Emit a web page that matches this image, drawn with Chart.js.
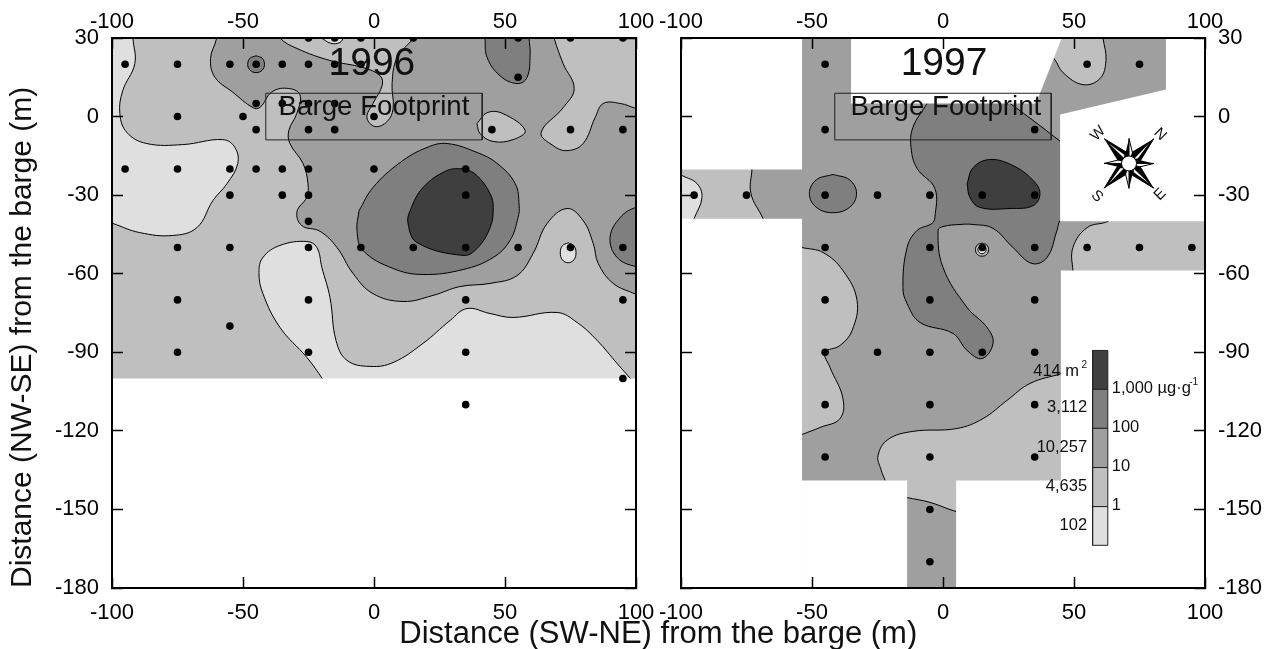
<!DOCTYPE html>
<html>
<head>
<meta charset="utf-8">
<title>Barge footprint 1996 / 1997</title>
<script src="https://cdn.jsdelivr.net/npm/chart.js@4"></script>
<style>
  body { margin: 0; background: #fff; }
  canvas { position: absolute; left: 0; top: 0; }
</style>
</head>
<body>
<canvas id="chart96" width="1270" height="649"></canvas>
<canvas id="chart97" width="1270" height="649"></canvas>
<script>
// axes
const xTicks = [-100, -50, 0, 50, 100];
const yTicks = [30, 0, -30, -60, -90, -120, -150, -180];

// sampling stations, [x, y] in metres
const stations96 = [
  [-25,30],[-15,30],[-5,30],[15,30],[55,30],[75,30],[95,30],
  [-95,20],[-75,20],[-55,20],[-45,20],[-35,20],[-25,20],[-15,20],[-5,20],[55,15],
  [-45,5],[-35,5],[-25,5],[-15,5],[-75,0],[-50,0],[0,0],
  [-45,-5],[-25,-5],[-15,-5],[45,-5],[75,-5],[95,-5],
  [-95,-20],[-75,-20],[-55,-20],[-45,-20],[-35,-20],[-25,-20],[0,-20],[35,-20],
  [-55,-30],[-35,-30],[-25,-30],[35,-30],[-25,-40],
  [-75,-50],[-55,-50],[-25,-50],[-5,-50],[15,-50],[35,-50],[55,-50],[75,-50],[95,-50],
  [-75,-70],[-25,-70],[35,-70],[95,-70],[-55,-80],
  [-75,-90],[-25,-90],[35,-90],[95,-100],[35,-110]
];
const stations97 = [
  [-45,20],[55,20],[75,20],[-45,-5],[35,-5],
  [-95,-30],[-75,-30],[-45,-30],[-25,-30],[-5,-30],[15,-30],[35,-30],
  [-45,-50],[-5,-50],[15,-50],[35,-50],[55,-50],[75,-50],[95,-50],
  [-45,-70],[-5,-70],[35,-70],
  [-45,-90],[-25,-90],[-5,-90],[15,-90],[35,-90],
  [-45,-110],[-5,-110],[35,-110],
  [-45,-130],[-5,-130],[35,-130],
  [-5,-150],[-5,-170]
];

// barge outline
const footprint = [[-41.3,8.9],[41.3,8.9],[41.3,-8.9],[-41.3,-8.9]];

// concentration classes, lowest to highest
const classColors = ['#dfdfdf', '#bfbfbf', '#9f9f9f', '#7f7f7f', '#3f3f3f'];
const classLabels = ['1', '10', '100', '1,000 µg·g'];
const classAreas = ['102', '4,635', '10,257', '3,112', '414 m'];
const classEdges = [-163.7, -148.9, -134, -119, -104.1, -89.3];

// 1996 contours
const base96 = [[-110,34],[110,34],[110,-110],[-110,-110]];
const c96Ten = [[-60,34],[-60.1,29.8],[-62.4,22.1],[-60.7,15],[-53.9,9.3],[-46.2,3.4],[-43.5,3.5],[-39.1,9.3],[-33.3,10.8],[-28.3,8.4],[-29.5,1.1],[-32.5,-5.3],[-32.1,-10.3],[-27.1,-17.9],[-25.2,-25.6],[-25.7,-30.8],[-29.4,-36.3],[-27.6,-41.6],[-20.6,-43.8],[-14.2,-49.9],[-8,-59.9],[-0.4,-67.6],[11.1,-70.6],[22.5,-68.3],[32.8,-64.9],[44.3,-63.7],[54.6,-60.7],[60.7,-52.3],[66.1,-40.8],[73.7,-35.1],[79.8,-39.7],[83.7,-48.5],[85.6,-56.1],[91.3,-63.7],[100,-67.9],[108,-72],[108,-108],[-108,-108],[-108,34]];
const c96OneLeft = [[-92,34],[-92,30],[-91.3,20.2],[-95.9,9.9],[-97,1.1],[-94.3,-6.1],[-86.7,-10.3],[-73,-10.7],[-57.7,-8.8],[-53.1,-11.8],[-52,-17.9],[-56.1,-25.6],[-61.5,-32.1],[-67.6,-42.4],[-76.8,-45.4],[-89.4,-44.3],[-99.7,-40.8],[-108,-38],[-108,34]];
const c96OneLow = [[-17,-105],[-19.5,-100.4],[-25.6,-92],[-35.9,-80.5],[-42.4,-67.6],[-43.9,-59.5],[-42.4,-53.8],[-35.9,-49.2],[-25.6,-47.7],[-21.8,-50],[-19.9,-57.6],[-16.8,-69.1],[-14.5,-85.5],[-10.3,-93.1],[-1.5,-95.4],[7.3,-93.9],[18.7,-86.6],[29,-77.9],[35.5,-73.3],[44.3,-75.2],[53.1,-76.7],[69.9,-74.8],[77.5,-78.6],[85.2,-85.5],[92.8,-94.3],[98.2,-100.4],[102,-105]];
const c96TenRight = [[68,34],[68.8,29.8],[72.2,20.2],[76.4,10.7],[72.2,3.4],[63.8,-6.1],[68.4,-11.1],[73.7,-13],[79.8,-10.3],[84.4,-0.4],[87.5,5],[94,5],[100,3.1],[108,1],[108,34]];
const c96TenIsland = [[39.3,-2.7],[43.2,1.5],[49.3,1.1],[57.7,-5.3],[53.1,-8.8],[45.5,-9.5],[40.5,-6.5]];
const c96TenTop = [[-37,34],[-35.9,30],[-29.4,26],[-16.8,21.4],[-4.2,18.7],[2.3,15.6],[3.1,11.8],[-0.4,5],[-2.7,-0.4],[0.4,-3.8],[5,-1.9],[7.3,3.1],[6.9,12.6],[8.8,22.5],[14.9,29.8],[17,34]];
const c96OneTiny = [[-20.5,30.3],[-16.5,28],[-13,28.3],[-12,30.3],[-16,33]];
const c96HundredTop = [[42.4,34],[42.4,29.8],[43.2,22.5],[48.1,15.6],[54.6,12.6],[58.4,14.9],[59.6,24],[59.2,29.8],[59.2,34]];
const c96Hundred = [[-5.7,-35.9],[-0.4,-27.1],[9.9,-17.6],[20.2,-11.8],[27.9,-10.3],[39.3,-13.7],[47,-17.9],[53.9,-25.6],[55.4,-34],[55,-38.5],[51.9,-47.3],[45.5,-53.8],[34,-58.4],[18.7,-60.3],[7.3,-58],[-4.2,-51.1],[-6.5,-43.5]];
const c96HundredRight = [[108,-34],[100,-34.7],[94,-38.5],[90.1,-46.2],[92.8,-53.8],[100,-57.3],[108,-58]];
const c96Thousand = [[34.8,-19.8],[27.9,-20.6],[18.7,-27.1],[13.8,-35.9],[13,-40.8],[16.4,-48.1],[34,-53],[39.3,-50.4],[44.3,-42.4],[45.5,-34.7],[44.3,-29.4],[39.3,-22.5]];
const c96OneSpot = [[74.1,-48.2],[76.3,-49.3],[77.1,-52],[76.3,-54.7],[74.1,-55.8],[71.9,-54.7],[71.1,-52],[71.9,-49.3]];
const c96HundredSpot = [[-45,23.2],[-42.7,22.3],[-41.8,20],[-42.7,17.7],[-45,16.8],[-47.3,17.7],[-48.2,20],[-47.3,22.3]];
const mask96 = [[-110,-100],[110,-100],[110,-190],[-110,-190]];

// 1997 contours
const base97 = [[-110,34],[110,34],[110,-190],[-110,-190]];
const c97Hundred = [[-3,10],[-6.1,5],[-11.5,-4.2],[-12.2,-11.8],[-9.9,-19.8],[-3.1,-27.5],[-3.1,-38.5],[-4.2,-40.8],[-9.9,-43.5],[-13.7,-50],[-15.3,-65.3],[-13.7,-71.4],[-8.8,-78.6],[3.8,-82.8],[9.2,-89.3],[14.9,-92.4],[19.1,-86.6],[16.8,-80.5],[9.2,-72.9],[0,-57.6],[-1.9,-43.5],[0,-42],[6.5,-41.2],[11.5,-41.2],[19.1,-42.7],[26.7,-50],[34,-56.1],[39.7,-53.8],[43.5,-43.5],[44.7,-39.7],[48.5,-36],[50,-13],[45.4,-9.9],[35.5,-2.3],[25.6,5],[20,9]];
const c97Thousand = [[9.2,-25.6],[11.5,-19.5],[17.9,-16.4],[26.7,-18.7],[34.4,-24.4],[37,-29.4],[34.4,-34],[25.6,-35.1],[14.1,-34.7],[10.3,-30.9]];
const c97HundredSpot = [[-42,-22.1],[-35.6,-24.2],[-33,-29.4],[-35.6,-34.6],[-42,-36.7],[-48.4,-34.6],[-51,-29.4],[-48.4,-24.2]];
const c97TenLeft = [[-72.9,-16.8],[-72.9,-19.8],[-73.3,-29.4],[-68.7,-38.9],[-67.9,-41.6],[-105,-42],[-105,-17]];
const c97OneLeft = [[-99.6,-22.5],[-93.9,-25.6],[-92,-30.9],[-95,-38.9],[-96.2,-41.6],[-105,-42],[-105,-22]];
const c97TenStrip = [[64.5,-37.8],[63,-40],[55,-42.4],[49.6,-50],[49.6,-58.8],[50.4,-61.5],[105,-62],[105,-38]];
const c97TenTop = [[38,26],[42.4,22.1],[45.8,16.8],[53.4,12.2],[59.9,14.5],[62.2,21.4],[61.1,29.8],[60.5,34],[40,34]];
const c97TenWest = [[-53.8,-50],[-45.8,-51.9],[-38.2,-58.8],[-32.8,-70.2],[-34.7,-81.7],[-39.3,-87.4],[-45,-90.1],[-43.1,-95.8],[-38.2,-107.6],[-39.3,-115.3],[-46.9,-118.7],[-53.8,-121.4],[-60,-124],[-60,-48]];
const c97TenSouth = [[45.4,-98.1],[33.2,-101.9],[24.4,-108.4],[15.3,-115.3],[5.3,-119.1],[-11.5,-120.2],[-21,-123.3],[-24.8,-129.4],[-23.7,-134.7],[-22.1,-138.9],[-20,-144],[-14.1,-145.4],[-5,-147.3],[5,-150.8],[15,-153],[52,-153],[52,-96]];
const c97RingOuter = [[14.9,-48.3],[16.7,-49],[17.4,-50.8],[16.7,-52.6],[14.9,-53.3],[13.1,-52.6],[12.4,-50.8],[13.1,-49]];
const c97RingInner = [[14.9,-49.2],[16,-49.7],[16.5,-50.8],[16,-51.9],[14.9,-52.4],[13.8,-51.9],[13.3,-50.8],[13.8,-49.7]];

// the areas that were not surveyed in 1997
const mask97 = [
  [[-110,34],[-53.8,34],[-53.8,-20.2],[-110,-20.2]],
  [[-110,-39],[-53.8,-39],[-53.8,-190],[-110,-190]],
  [[-35.1,34],[46.9,34],[35.5,5],[-35.1,5]],
  [[85.1,34],[110,34],[110,-40],[44.7,-40],[44.7,0.8],[85.1,10.3]],
  [[110,-58.8],[110,-190],[5,-190],[5,-139],[45,-139],[45,-58.8]],
  [[-53.8,-139],[-13.7,-139],[-13.7,-190],[-53.8,-190]]
];

const FONT = '"Liberation Sans", Arial, sans-serif';

function toXY(pts) {
  return pts.map(p => ({ x: p[0], y: p[1] }));
}

function closed(pts) {
  return toXY(pts.concat([pts[0]]));
}

// a filled contour region, the outline is smoothed
function contour(pts, color) {
  return {
    data: closed(pts), showLine: true, fill: 'shape', backgroundColor: color,
    borderColor: '#000', borderWidth: 1, tension: 0.4, pointRadius: 0
  };
}

function flat(pts, color) {
  return {
    data: closed(pts), showLine: true, fill: 'shape', backgroundColor: color,
    borderWidth: 0, borderColor: color, tension: 0, pointRadius: 0
  };
}

function outline(pts) {
  return {
    data: closed(pts), showLine: true, fill: false, borderColor: '#222',
    borderWidth: 1, tension: 0, pointRadius: 0
  };
}

function dots(pts) {
  return {
    data: toXY(pts), showLine: false, pointRadius: 3.8,
    pointBackgroundColor: '#000', pointBorderWidth: 0
  };
}

function stack(list) {
  // later items paint over earlier ones
  list.forEach((d, i) => { d.order = list.length - i; });
  return list;
}

const labelGap = { left: 24, right: 24, top: 14, bottom: 23 };

function axis(position, ticks, showLabels, size) {
  const vertical = position === 'left' || position === 'right';
  return {
    type: 'linear', position: position,
    min: vertical ? -180 : -100, max: vertical ? 30 : 100,
    afterBuildTicks: s => { s.ticks = ticks.map(v => ({ value: v })); },
    afterFit: s => { if (vertical) s.width = size; else s.height = size; },
    border: { display: true, color: '#000', width: 2, z: 2 },
    grid: { drawOnChartArea: false, drawTicks: true, tickLength: -11, tickWidth: 1.5, tickColor: '#000', z: 2 },
    ticks: {
      display: showLabels, color: '#000', padding: labelGap[position], maxRotation: 0, autoSkip: false,
      font: { family: FONT, size: 22 }, callback: v => String(v), z: 2
    }
  };
}

function putText(ctx, text, px, py, size, align, angle) {
  ctx.save();
  ctx.translate(px, py);
  ctx.rotate((angle || 0) * Math.PI / 180);
  ctx.font = size + 'px ' + FONT;
  ctx.fillStyle = '#111';
  ctx.textAlign = align || 'center';
  ctx.textBaseline = 'middle';
  ctx.fillText(text, 0, 0);
  ctx.restore();
}

function drawCompass(ctx, cx, cy) {
  ctx.save();
  ctx.translate(cx, cy);
  ctx.strokeStyle = '#000';
  ctx.lineJoin = 'miter';
  for (let i = 0; i < 8; i++) {
    const a = i * Math.PI / 4;
    const diagonal = i % 2 === 1;
    const tip = diagonal ? 35 : 25;
    const tx = tip * Math.cos(a), ty = tip * Math.sin(a);
    const spread = diagonal ? Math.PI / 6 : Math.PI / 8;
    const base = diagonal ? 12 : 10;
    // dark half, then the lit half of the point
    ctx.beginPath();
    ctx.moveTo(tx, ty);
    ctx.lineTo(base * Math.cos(a - spread), base * Math.sin(a - spread));
    ctx.lineTo(0, 0);
    ctx.closePath();
    ctx.fillStyle = '#000';
    ctx.fill();
    ctx.beginPath();
    ctx.moveTo(tx, ty);
    ctx.lineTo(base * Math.cos(a + spread), base * Math.sin(a + spread));
    ctx.lineTo(0, 0);
    ctx.closePath();
    ctx.fillStyle = diagonal ? '#000' : '#fff';
    ctx.lineWidth = 1;
    ctx.fill();
    ctx.stroke();
    if (diagonal) {
      ctx.beginPath();
      ctx.moveTo(tx * 0.8, ty * 0.8);
      ctx.lineTo(10 * Math.cos(a + 0.28), 10 * Math.sin(a + 0.28));
      ctx.lineTo(7 * Math.cos(a + 0.05), 7 * Math.sin(a + 0.05));
      ctx.closePath();
      ctx.fillStyle = '#fff';
      ctx.fill();
    }
  }
  ctx.beginPath();
  ctx.arc(0, 0, 7.5, 0, Math.PI * 2);
  ctx.fillStyle = '#fff';
  ctx.fill();
  ctx.strokeStyle = '#000';
  ctx.lineWidth = 1;
  ctx.stroke();
  ctx.restore();
  putText(ctx, 'W', cx - 31, cy - 30, 15, 'center', -45);
  putText(ctx, 'N', cx + 31, cy - 29, 15, 'center', 45);
  putText(ctx, 'E', cx + 31, cy + 31, 15, 'center', -45);
  putText(ctx, 'S', cx - 32, cy + 33, 15, 'center', 45);
}

const labels96 = {
  id: 'labels96',
  afterDatasetsDraw(chart) {
    const { ctx, scales: { x, y } } = chart;
    putText(ctx, '1996', x.getPixelForValue(-0.8), y.getPixelForValue(20), 39);
    putText(ctx, 'Barge Footprint', x.getPixelForValue(0), y.getPixelForValue(3.4), 27.7);
    putText(ctx, 'Distance (SW-NE) from the barge (m)', x.getPixelForValue(108.5), y.bottom + 46, 31);
  }
};

const labels97 = {
  id: 'labels97',
  afterDatasetsDraw(chart) {
    const { ctx, scales: { x, y } } = chart;
    putText(ctx, '1997', x.getPixelForValue(0.4), y.getPixelForValue(20), 39);
    putText(ctx, 'Barge Footprint', x.getPixelForValue(1.1), y.getPixelForValue(3.4), 27.7);
    drawCompass(ctx, x.getPixelForValue(71), y.getPixelForValue(-17.9));

    // legend text next to the class bar
    const areaX = x.getPixelForValue(55), classX = x.getPixelForValue(64.4);
    classAreas.forEach((t, i) => {
      const middle = (classEdges[i] + classEdges[i + 1]) / 2;
      putText(ctx, t, areaX - (i === 4 ? 8 : 0), y.getPixelForValue(middle + (i === 4 ? -0.8 : 0.3)), 16.5, 'right');
    });
    classLabels.forEach((t, i) => {
      putText(ctx, t, classX, y.getPixelForValue(classEdges[i + 1] + 0.4), 16.5, 'left');
    });
    putText(ctx, '2', areaX, y.getPixelForValue(-94.8), 10, 'right');
    putText(ctx, '-1', x.getPixelForValue(94), y.getPixelForValue(-101.5), 10, 'left');
  }
};

function baseOptions(scales, padding) {
  return {
    responsive: false, animation: false, events: [],
    layout: { padding: padding },
    elements: { line: { capBezierPoints: false } },
    plugins: { legend: { display: false }, tooltip: { enabled: false } },
    scales: scales
  };
}

const y96 = axis('left', yTicks, true, 112);
y96.title = {
  display: true, text: 'Distance (NW-SE) from the barge (m)', color: '#111', align: 'start',
  font: { family: FONT, size: 30 }, padding: { top: 5, bottom: 0 }
};

new Chart(document.getElementById('chart96'), {
  type: 'scatter',
  data: {
    datasets: stack([
      flat(base96, classColors[2]),
      contour(c96Ten, classColors[1]),
      contour(c96OneLeft, classColors[0]),
      contour(c96OneLow, classColors[0]),
      contour(c96TenRight, classColors[1]),
      contour(c96TenIsland, classColors[1]),
      contour(c96TenTop, classColors[1]),
      contour(c96OneTiny, classColors[0]),
      contour(c96HundredTop, classColors[3]),
      contour(c96Hundred, classColors[3]),
      contour(c96HundredRight, classColors[3]),
      contour(c96Thousand, classColors[4]),
      contour(c96OneSpot, classColors[0]),
      contour(c96HundredSpot, classColors[3]),
      flat(mask96, '#fff'),
      outline(footprint),
      dots(stations96)
    ])
  },
  options: baseOptions({
    x: axis('bottom', xTicks, true, 61),
    xTop: axis('top', xTicks, true, 38),
    y: y96,
    yRight: axis('right', yTicks, false, 0)
  }, { left: 0, right: 634, top: 0, bottom: 0 }),
  plugins: [labels96]
});

// class bar of the legend, one block per class
const classBlocks = classColors.map((c, i) => {
  const low = classEdges[i], high = classEdges[i + 1];
  return {
    data: closed([[57.1, low], [62.9, low], [62.9, high], [57.1, high]]),
    showLine: true, fill: 'shape', backgroundColor: c, borderColor: '#222',
    borderWidth: 1, tension: 0, pointRadius: 0
  };
});

new Chart(document.getElementById('chart97'), {
  type: 'scatter',
  data: {
    datasets: stack([
      flat(base97, classColors[2]),
      contour(c97Hundred, classColors[3]),
      contour(c97Thousand, classColors[4]),
      contour(c97HundredSpot, classColors[3]),
      contour(c97TenLeft, classColors[1]),
      contour(c97OneLeft, classColors[0]),
      contour(c97TenStrip, classColors[1]),
      contour(c97TenTop, classColors[1]),
      contour(c97TenWest, classColors[1]),
      contour(c97TenSouth, classColors[1]),
      contour(c97RingOuter, classColors[1]),
      contour(c97RingInner, classColors[0])
    ].concat(
      mask97.map(m => flat(m, '#fff')),
      classBlocks,
      [outline(footprint), dots(stations97)]
    ))
  },
  options: baseOptions({
    x: axis('bottom', xTicks, true, 61),
    xTop: axis('top', xTicks, true, 38),
    y: axis('left', yTicks, false, 0),
    yRight: axis('right', yTicks, true, 65)
  }, { left: 681, right: 0, top: 0, bottom: 0 }),
  plugins: [labels97]
});
</script>
</body>
</html>
